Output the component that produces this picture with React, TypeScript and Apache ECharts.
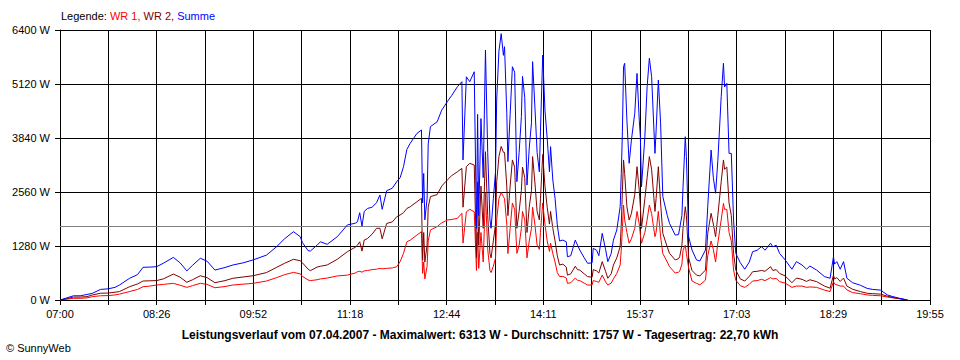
import React, { useEffect, useRef } from "react";
import * as echarts from "echarts";

// minutes after 07:00
const offsetMin = [
  0, 6, 12, 18, 24, 29, 36, 43, 49, 53, 62, 69, 74, 80, 86, 92, 101, 107, 113, 118,
  125, 131, 138, 147, 154, 163, 172, 184, 193, 200, 208, 214, 216, 221, 223, 229, 232, 238, 247, 256,
  263, 265, 267, 269, 271, 274, 278, 282, 285, 287, 291, 296, 300, 303, 306, 309, 312, 318, 322, 323,
  324, 325, 327, 328, 330, 336, 340, 345, 349, 354, 358, 359, 362, 365, 369, 371, 372, 373, 375, 377,
  379, 381, 383, 384, 386, 388, 389, 391, 393, 395, 396, 398, 399, 401, 403, 405, 407, 409, 411, 412,
  414, 416, 418, 420, 421, 423, 425, 427, 428, 430, 432, 434, 436, 437, 439, 441, 443, 445, 448, 451,
  452, 455, 459, 461, 463, 467, 470, 474, 475, 478, 480, 483, 486, 488, 491, 493, 496, 499, 500, 501,
  502, 503, 505, 507, 509, 512, 514, 516, 517, 518, 521, 523, 525, 527, 530, 531, 533, 535, 537, 541,
  543, 548, 551, 552, 554, 555, 557, 558, 560, 563, 567, 570, 575, 577, 580, 582, 584, 586, 589, 591,
  592, 594, 596, 598, 600, 602, 606, 610, 614, 617, 621, 625, 628, 633, 635, 638, 641, 646, 652, 656,
  661, 665, 668, 674, 681, 686, 689, 690, 692, 695, 698, 701, 706, 713, 719, 724, 731, 737, 742, 748,
  755,
];

const summe = [
  0, 50, 100, 100, 130, 160, 250, 265, 300, 355, 515, 600, 775, 780, 790, 870, 1010, 880, 690, 820,
  990, 920, 710, 770, 830, 880, 950, 1065, 1265, 1450, 1620, 1500, 1360, 1170, 1160, 1300, 1380, 1320, 1500, 1780,
  1820, 1855, 2070, 1750, 2100, 2170, 2200, 2305, 2490, 2150, 2590, 2650, 2805, 2900, 3160, 3570, 3715, 3950, 4030, 2300,
  3000, 1900, 2400, 3700, 4110, 4225, 4500, 4700, 4850, 5055, 5175, 3320, 5290, 5175, 5410, 1700, 4400, 2000, 4300, 2900,
  5925, 3500, 1900, 1700, 2400, 3040, 4740, 5900, 6313, 5800, 6005, 4425, 3280, 4400, 5530, 5400, 2805, 3500, 4345, 5300,
  4800, 2725, 3600, 4200, 5650, 4600, 3500, 3040, 4000, 5805, 4500, 3830, 3040, 3635, 2845, 2410, 1780, 1400, 1420, 1380,
  1025, 1050, 1420, 1300, 1185, 1000, 870, 880, 1225, 1180, 1050, 1580, 1200, 910, 1100, 1420, 1660, 2210, 3000, 4000,
  5530, 5610, 4265, 3240, 3790, 4425, 5370, 4265, 3870, 2685, 3870, 5055, 5730, 5300, 3475, 4000, 5215, 4200, 2450, 2000,
  1815, 1540, 1550, 1700, 2000, 2685, 3870, 3400, 1500, 1185, 950, 925, 1185, 2210, 3555, 2900, 2530, 3300, 4820, 5610,
  5050, 5135, 3475, 3475, 1895, 1105, 885, 730, 900, 1145, 1180, 1265, 1180, 1345, 1260, 1300, 1105, 950, 730, 910,
  830, 730, 805, 710, 555, 515, 1025, 850, 910, 730, 910, 515, 410, 350, 275, 250, 235, 120, 80, 40,
  0,
];

const wr2 = [
  0, 30, 70, 70, 80, 120, 160, 165, 185, 200, 315, 380, 450, 455, 460, 500, 615, 540, 420, 480,
  575, 530, 410, 460, 515, 545, 575, 650, 775, 870, 965, 930, 880, 730, 695, 780, 800, 830, 965, 1145,
  1250, 1300, 1380, 1160, 1420, 1460, 1560, 1700, 1700, 1450, 1815, 1850, 1975, 2015, 2070, 2170, 2210, 2330, 2410, 950,
  1600, 900, 1300, 2200, 2450, 2500, 2700, 2845, 2950, 3040, 3120, 2200, 3160, 3240, 3200, 1000, 2800, 1300, 2700, 1700,
  3515, 2000, 1100, 1000, 1400, 1800, 2800, 3400, 3640, 3500, 3500, 2700, 2000, 2700, 3320, 3150, 1700, 2100, 2600, 3150,
  2900, 1600, 2200, 2600, 3400, 2800, 2100, 1900, 2400, 3450, 2700, 2200, 1800, 2100, 1700, 1400, 1050, 830, 850, 780,
  590, 620, 800, 720, 710, 620, 555, 540, 720, 690, 640, 910, 680, 515, 620, 830, 1000, 1265, 1800, 2600,
  3320, 3000, 2210, 1895, 2050, 2500, 3160, 2600, 2210, 1700, 2400, 2900, 3400, 3100, 2100, 2400, 3160, 2300, 1580, 1250,
  1105, 950, 980, 1025, 1300, 1700, 2210, 2000, 1000, 700, 590, 570, 710, 1580, 2055, 1800, 1500, 2000, 2800, 3320,
  3100, 3150, 2300, 2000, 1105, 710, 500, 450, 560, 670, 680, 700, 680, 790, 700, 720, 630, 570, 410, 520,
  490, 440, 480, 435, 330, 280, 590, 500, 530, 440, 520, 330, 255, 200, 160, 150, 140, 90, 60, 30,
  0,
];

const wr1 = [
  0, 20, 40, 40, 50, 80, 100, 105, 120, 140, 200, 250, 315, 330, 355, 370, 395, 350, 300, 340,
  395, 370, 290, 320, 355, 375, 395, 450, 530, 600, 655, 620, 560, 475, 460, 480, 500, 520, 570, 590,
  640, 670, 680, 660, 690, 700, 720, 730, 750, 740, 750, 760, 790, 910, 1105, 1380, 1420, 1540, 1620, 630,
  900, 500, 800, 1400, 1660, 1740, 1830, 1895, 1910, 1935, 2055, 1350, 2090, 2150, 2090, 700, 1600, 750, 1600, 900,
  2530, 1200, 700, 650, 800, 1000, 1900, 2400, 2550, 2450, 2400, 1800, 1100, 1700, 2300, 2150, 1105, 1300, 1700, 2100,
  1900, 1000, 1400, 1700, 2200, 1800, 1300, 1200, 1600, 2300, 1800, 1400, 1150, 1350, 1100, 900, 650, 555, 560, 520,
  395, 410, 520, 470, 460, 400, 355, 355, 460, 440, 420, 590, 430, 355, 400, 500, 630, 830, 1200, 1700,
  2250, 1900, 1600, 1345, 1450, 1700, 2100, 1800, 1550, 1345, 1600, 1900, 2250, 2050, 1500, 1600, 2100, 1500, 1100, 900,
  790, 640, 660, 680, 850, 1180, 1300, 1100, 760, 450, 395, 360, 470, 1050, 1400, 1200, 900, 1350, 1900, 2290,
  2150, 2150, 1600, 1400, 710, 470, 340, 300, 370, 450, 460, 490, 460, 530, 500, 510, 435, 400, 300, 330,
  330, 300, 310, 300, 235, 200, 435, 380, 360, 330, 330, 240, 175, 150, 120, 110, 100, 70, 50, 30,
  0,
];

const xTickLabels = ["07:00", "08:26", "09:52", "11:18", "12:44", "14:11", "15:37", "17:03", "18:29", "19:55"];
const yMax = 6400;
const yStep = 1280;
const spanMin = 775;
const average = 1757;

const caption =
  "Leistungsverlauf vom 07.04.2007 - Maximalwert: 6313 W - Durchschnitt: 1757 W - Tagesertrag: 22,70 kWh";

const FONT = "'Liberation Sans', Arial, sans-serif";

export default function App() {
  const ref = useRef<HTMLDivElement>(null);

  useEffect(() => {
    if (!ref.current) return;
    const chart = echarts.init(ref.current, null, { renderer: "svg" });
    const labelStep = spanMin / (xTickLabels.length - 1);
    const mk = (arr: number[]) => offsetMin.map((m, i) => [m, arr[i]]);
    const option: any = {
      animation: false,
      backgroundColor: "#ffffff",
      textStyle: { fontFamily: FONT },
      title: {
        text: caption,
        left: "center",
        top: 329,
        padding: 0,
        textStyle: { fontSize: 12, fontWeight: "bold", color: "#000", fontFamily: FONT },
      },
      grid: { left: 60, top: 30, width: 870, height: 270 },
      xAxis: {
        type: "value",
        min: 0,
        max: spanMin,
        interval: spanMin / 18,
        axisLine: { show: true, lineStyle: { color: "#000", width: 1 } },
        axisTick: { show: true, length: 5, lineStyle: { color: "#000" } },
        splitLine: { show: true, lineStyle: { color: "#000", width: 1 } },
        axisLabel: {
          color: "#000",
          fontSize: 11,
          margin: 8,
          fontFamily: FONT,
          formatter: (v: number) => {
            const idx = Math.round(v / labelStep);
            if (Math.abs(v - idx * labelStep) < 0.5 && xTickLabels[idx]) return xTickLabels[idx];
            return "";
          },
        },
      },
      yAxis: {
        type: "value",
        min: 0,
        max: yMax,
        interval: yStep,
        axisLine: { show: true, lineStyle: { color: "#000", width: 1 } },
        axisTick: { show: true, length: 5, lineStyle: { color: "#000" } },
        splitLine: { show: true, lineStyle: { color: "#000", width: 1 } },
        axisLabel: {
          color: "#000",
          fontSize: 11,
          margin: 10,
          fontFamily: FONT,
          formatter: (v: number) => `${v} W`,
        },
      },
      graphic: [
        {
          type: "text",
          left: 61,
          top: 10,
          style: {
            text: "{k|Legende: }{r|WR 1,} {m|WR 2,} {b|Summe}",
            font: `11px ${FONT}`,
            rich: {
              k: { fill: "#000", fontSize: 11, fontFamily: FONT },
              r: { fill: "#ff0000", fontSize: 11, fontFamily: FONT },
              m: { fill: "#800000", fontSize: 11, fontFamily: FONT },
              b: { fill: "#0000ff", fontSize: 11, fontFamily: FONT },
            },
          },
        },
        {
          type: "text",
          left: 6,
          top: 342,
          style: { text: "\u00A9 SunnyWeb", font: `11px ${FONT}`, fill: "#000" },
        },
      ],
      series: [
        {
          name: "WR 1",
          type: "line",
          data: mk(wr1),
          showSymbol: false,
          symbol: "none",
          lineStyle: { color: "#ff0000", width: 1 },
          itemStyle: { color: "#ff0000" },
          z: 3,
        },
        {
          name: "WR 2",
          type: "line",
          data: mk(wr2),
          showSymbol: false,
          symbol: "none",
          lineStyle: { color: "#800000", width: 1 },
          itemStyle: { color: "#800000" },
          z: 4,
        },
        {
          name: "Summe",
          type: "line",
          data: mk(summe),
          showSymbol: false,
          symbol: "none",
          lineStyle: { color: "#0000ff", width: 1 },
          itemStyle: { color: "#0000ff" },
          z: 5,
          markLine: {
            silent: true,
            symbol: "none",
            label: { show: false },
            lineStyle: { color: "#808080", type: "solid", width: 1 },
            data: [{ yAxis: average }],
          },
        },
      ],
    };
    chart.setOption(option);
    return () => chart.dispose();
  }, []);

  return (
    <div
      ref={ref}
      style={{ position: "absolute", left: 0, top: 0, width: 960, height: 360, background: "#fff" }}
    />
  );
}
